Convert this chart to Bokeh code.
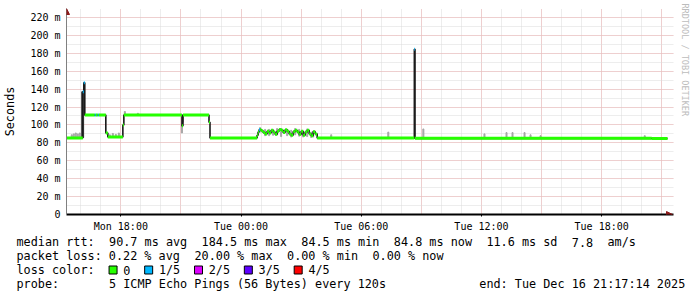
import re
import pandas as pd
from bokeh.plotting import figure
from bokeh.layouts import column
from bokeh.models import (Range1d, SingleIntervalTicker, DatetimeTickFormatter,
                          CustomJSTickFormatter, Arrow, NormalHead, ColumnDataSource, Title)
from bokeh.core.properties import value
from bokeh.embed import file_html
from bokeh.resources import INLINE

# ---------------- data ----------------
START = "2025-12-15 15:17:14"
END = "2025-12-16 21:17:14"

median_time = [
    "2025-12-15 15:17", "2025-12-15 16:06", "2025-12-15 16:09", "2025-12-15 16:12",
    "2025-12-15 16:42", "2025-12-15 16:45", "2025-12-15 16:51", "2025-12-15 16:54",
    "2025-12-15 17:15", "2025-12-15 17:21", "2025-12-15 18:06", "2025-12-15 18:09",
    "2025-12-15 21:03", "2025-12-15 21:06", "2025-12-15 22:24", "2025-12-15 22:27",
    "2025-12-16 00:48", "2025-12-16 00:51", "2025-12-16 00:54", "2025-12-16 00:57",
    "2025-12-16 01:00", "2025-12-16 01:06", "2025-12-16 01:12", "2025-12-16 01:18",
    "2025-12-16 01:24", "2025-12-16 01:30", "2025-12-16 01:36", "2025-12-16 01:42",
    "2025-12-16 01:48", "2025-12-16 01:54", "2025-12-16 02:00", "2025-12-16 02:06",
    "2025-12-16 02:12", "2025-12-16 02:18", "2025-12-16 02:24", "2025-12-16 02:30",
    "2025-12-16 02:36", "2025-12-16 02:42", "2025-12-16 02:48", "2025-12-16 02:54",
    "2025-12-16 03:00", "2025-12-16 03:06", "2025-12-16 03:12", "2025-12-16 03:18",
    "2025-12-16 03:24", "2025-12-16 03:30", "2025-12-16 03:36", "2025-12-16 03:42",
    "2025-12-16 03:48", "2025-12-16 08:39", "2025-12-16 08:41", "2025-12-16 20:30",
]
median_ms = [
    85.5, 137.0, 147.0, 111.0,
    111.0, 111.0, 111.0, 111.0,
    91.0, 86.5, 100.0, 111.0,
    99.0, 111.0, 103.0, 85.5,
    88.5, 92.0, 94.5, 95.0,
    93.5, 91.5, 90.0, 93.0,
    91.0, 94.0, 92.0, 89.5,
    93.0, 95.0, 94.0, 91.5,
    94.5, 93.0, 90.0, 88.5,
    92.5, 94.0, 92.0, 89.5,
    93.0, 88.5, 92.0, 94.0,
    90.0, 88.0, 92.5, 90.0,
    85.5, 184.5, 85.0, 84.8,
]
median_loss = [
    0, 1, 1, 0,
    1, 0, 1, 0,
    0, 0, 0, 0,
    0, 0, 0, 0,
    0, 0, 1, 0,
    0, 0, 0, 0,
    0, 0, 0, 0,
    0, 0, 0, 0,
    0, 0, 0, 0,
    0, 0, 0, 0,
    0, 0, 0, 0,
    0, 0, 0, 0,
    0, 1, 0, 0,
]

smoke_time = [
    "2025-12-15 15:33", "2025-12-15 15:39", "2025-12-15 15:45", "2025-12-15 15:51",
    "2025-12-15 15:57", "2025-12-15 16:04", "2025-12-15 16:07", "2025-12-15 17:27",
    "2025-12-15 17:36", "2025-12-15 17:45", "2025-12-15 17:54", "2025-12-15 18:12",
    "2025-12-15 18:51", "2025-12-15 21:03", "2025-12-15 21:06", "2025-12-16 00:57",
    "2025-12-16 01:12", "2025-12-16 01:24", "2025-12-16 01:36", "2025-12-16 01:48",
    "2025-12-16 02:00", "2025-12-16 02:18", "2025-12-16 02:30", "2025-12-16 02:42",
    "2025-12-16 02:54", "2025-12-16 03:06", "2025-12-16 03:18", "2025-12-16 03:30",
    "2025-12-16 03:36", "2025-12-16 04:30", "2025-12-16 07:21", "2025-12-16 09:06",
    "2025-12-16 12:09", "2025-12-16 13:15", "2025-12-16 13:33", "2025-12-16 14:09",
    "2025-12-16 14:27", "2025-12-16 14:57", "2025-12-16 20:09",
]
smoke_low = [
    85.5, 85.5, 85.5, 85.5,
    85.5, 86.0, 86.0, 86.5,
    86.5, 86.5, 86.5, 111.0,
    111.0, 91.0, 103.0, 92.0,
    88.0, 88.0, 88.5, 89.0,
    87.0, 88.0, 86.5, 89.0,
    87.5, 86.5, 87.0, 86.0,
    86.5, 85.0, 85.0, 85.0,
    85.0, 85.0, 85.0, 85.0,
    85.0, 85.0, 85.0,
]
smoke_high = [
    89.0, 90.0, 91.0, 90.0,
    91.0, 137.0, 137.0, 89.0,
    90.5, 89.5, 91.0, 115.0,
    113.0, 99.0, 110.0, 97.0,
    95.0, 95.0, 95.0, 96.0,
    96.0, 95.0, 94.0, 96.0,
    95.0, 93.0, 95.5, 92.0,
    93.0, 89.0, 92.0, 95.5,
    90.0, 91.5, 91.5, 91.5,
    89.0, 88.0, 88.0,
]
smoke_dark = [
    0, 0, 0, 0,
    0, 1, 1, 0,
    0, 0, 0, 0,
    0, 0, 0, 0,
    0, 0, 0, 0,
    0, 0, 0, 0,
    0, 0, 0, 0,
    0, 0, 0, 0,
    0, 0, 0, 0,
    0, 0, 0,
]

loss_labels = ["0", "1/5", "2/5", "3/5", "4/5"]
loss_colors = ["#26ff00", "#00b8ff", "#dd00ff", "#5e00ff", "#ff0000"]

legend_lines = [
    "median rtt:  90.7 ms avg  184.5 ms max  84.5 ms min  84.8 ms now  11.6 ms sd  7.8  am/s",
    "packet loss: 0.22 % avg  20.00 % max  0.00 % min  0.00 % now",
    "loss color:",
    "probe:       5 ICMP Echo Pings (56 Bytes) every 120s             end: Tue Dec 16 21:17:14 2025",
]
y_label = "Seconds"
watermark = "RRDTOOL / TOBI OETIKER"
y_max_label = 220

assert len(median_time) == len(median_ms) == len(median_loss)
assert len(smoke_time) == len(smoke_low) == len(smoke_high) == len(smoke_dark)

# ---------------- layout constants ----------------
W, H = 697, 297
H1 = 234                      # height of the chart part, legend below
PLOT_L, PLOT_R = 66, 667      # pixel span of START..END
FRAME_R = 673                 # frame extends a little for the arrow head
Y0_PX, YMAX_PX, FRAME_T = 215, 17, 8
MONO = "DejaVu Sans Mono"
CW = 7.12
X0 = 16.0
HOUR = 3600 * 1000

t_start = pd.Timestamp(START)
t_end = pd.Timestamp(END)
ms_per_px = (t_end - t_start) / (PLOT_R - PLOT_L)
x_hi = t_end + ms_per_px * (FRAME_R - PLOT_R)
y_hi = y_max_label * (Y0_PX - FRAME_T) / (Y0_PX - YMAX_PX)

p = figure(width=W, height=H1, output_backend="svg", toolbar_location=None,
           x_axis_type="datetime",
           x_range=Range1d(t_start, x_hi), y_range=Range1d(0, y_hi),
           min_border_left=PLOT_L, min_border_right=W - FRAME_R,
           min_border_top=FRAME_T, min_border_bottom=H1 - Y0_PX)
p.frame_align = False
p.background_fill_color = "white"
p.border_fill_color = "white"
p.outline_line_color = None

# grids
p.xgrid.ticker = SingleIntervalTicker(interval=3 * HOUR, num_minor_ticks=3)
p.ygrid.bounds = (0, y_max_label)
for g in (p.xgrid, p.ygrid):
    g.grid_line_color = "#eeb0b0"
    g.grid_line_dash = "1 1"
    g.minor_grid_line_color = "#dadada"
    g.minor_grid_line_dash = "1 1"

# axes
xa = p.xaxis[0]
xa.ticker = SingleIntervalTicker(interval=6 * HOUR, num_minor_ticks=6)
fmt = "%a %H:%M"
xa.formatter = DatetimeTickFormatter(hours=fmt, hourmin=fmt, days=fmt, minutes=fmt, minsec=fmt)
xa.major_label_text_font = MONO
xa.major_label_text_font_size = "10px"
xa.major_label_text_color = "#000000"
xa.axis_line_color = "#000000"
xa.axis_line_width = 2
xa.major_tick_out = 2
xa.major_tick_in = 0
xa.minor_tick_out = 0
xa.minor_tick_in = 0
xa.major_label_standoff = 4

ya = p.yaxis[0]
ya.ticker = SingleIntervalTicker(interval=20, num_minor_ticks=2)
ya.formatter = CustomJSTickFormatter(code="return tick == 0 ? '0' : tick.toFixed(0) + ' m';")
ya.major_label_text_font = MONO
ya.major_label_text_font_size = "10px"
ya.major_label_text_color = "#000000"
ya.axis_line_color = "#808080"
ya.major_tick_out = 0
ya.major_tick_in = 0
ya.minor_tick_out = 0
ya.minor_tick_in = 0
ya.major_label_standoff = 6
ya.axis_label = y_label
ya.axis_label_text_font = MONO
ya.axis_label_text_font_size = "11.8px"
ya.axis_label_text_font_style = "normal"
ya.axis_label_text_color = "#000000"
ya.axis_label_standoff = 10

# watermark on the right side
p.add_layout(Title(text=watermark, align="left", offset=-5, vertical_align="middle",
                   standoff=11, text_font=MONO, text_font_size="8.5px",
                   text_font_style="normal", text_color="#bcbcbc"), "right")

# ---------------- data glyphs ----------------
mt = pd.to_datetime(median_time)
mt_next = list(mt[1:]) + [t_end]

smoke_src = ColumnDataSource(dict(
    x=pd.to_datetime(smoke_time), bottom=smoke_low, top=smoke_high,
    color=["#4a4a4a" if d else "#a6a6a6" for d in smoke_dark]))
p.vbar(x="x", bottom="bottom", top="top", width=3 * 60 * 1000, color="color",
       source=smoke_src)

step_x = list(mt) + [t_end]
step_y = list(median_ms) + [median_ms[-1]]
p.step(step_x, step_y, mode="after", line_color="#1a1a1a", line_width=1.6)

band_src = ColumnDataSource(dict(
    x0=list(mt), x1=mt_next, y=median_ms,
    color=[loss_colors[k] for k in median_loss]))
p.segment(x0="x0", y0="y", x1="x1", y1="y", line_color="color", line_width=3,
          line_cap="butt", source=band_src)

# ---------------- axis arrows (inside the frame) ----------------
fw = FRAME_R - PLOT_L
fh = Y0_PX - FRAME_T
p.add_layout(Arrow(end=NormalHead(size=6, fill_color="#8b1a1a", line_color="#8b1a1a"),
                   x_start=fw - 8, y_start=0, x_end=fw - 1, y_end=0,
                   start_units="screen", end_units="screen", line_color=None))
p.add_layout(Arrow(end=NormalHead(size=6, fill_color="#8b1a1a", line_color="#8b1a1a"),
                   x_start=0, y_start=fh - 8, x_end=0, y_end=fh - 1,
                   start_units="screen", end_units="screen", line_color=None))

# ---------------- legend panel ----------------
LH = H - H1
leg = figure(width=W, height=LH, output_backend="svg", toolbar_location=None,
             x_range=Range1d(0, W), y_range=Range1d(LH, 0),
             x_axis_location=None, y_axis_location=None,
             min_border_left=0, min_border_right=0, min_border_top=0, min_border_bottom=0)
leg.frame_align = False
leg.xgrid.visible = False
leg.ygrid.visible = False
leg.outline_line_color = None
leg.background_fill_color = "white"
leg.border_fill_color = "white"

row_y = [241.5, 255.5, 269.5, 283.5]
tx, ty, tt = [], [], []
for line, cy in zip(legend_lines, row_y):
    for m in re.finditer(r"\S+(?: \S+)*", line):
        tx.append(X0 + m.start() * CW)
        ty.append(cy - H1)
        tt.append(m.group(0))

bl, br, bcol = [], [], []
col = 13
for lab, colr in zip(loss_labels, loss_colors):
    bx = X0 + col * CW
    bl.append(bx)
    br.append(bx + 8)
    bcol.append(colr)
    tx.append(X0 + (col + 2) * CW)
    ty.append(row_y[2] - H1)
    tt.append(lab)
    col += 2 + len(lab) + 2

leg.text(x=tx, y=ty, text=tt, text_font=value(MONO), text_font_size="11.8px",
         text_color="#000000", text_baseline="middle", text_align="left")
leg.quad(left=bl, right=br, top=[row_y[2] - 4 - H1] * len(bl),
         bottom=[row_y[2] + 4 - H1] * len(bl), fill_color=bcol,
         line_color="#000000", line_width=1)

open("out.html", "w").write(file_html(column(p, leg), INLINE))
